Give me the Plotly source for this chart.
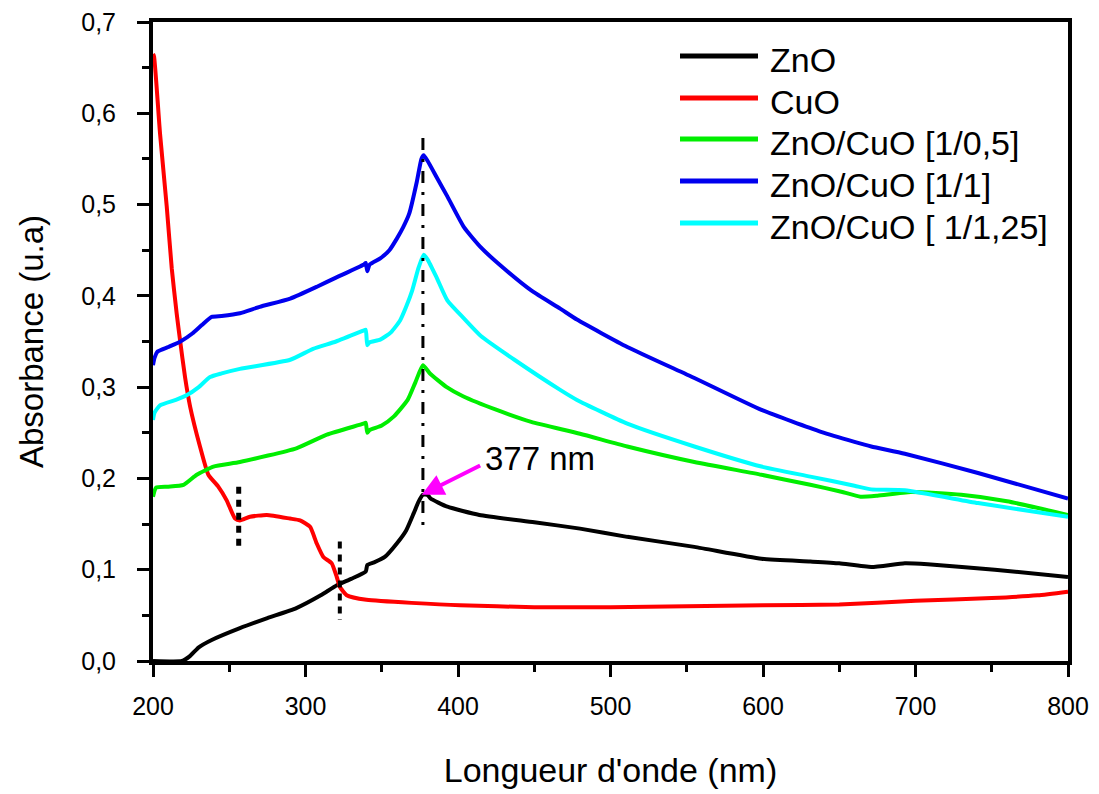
import plotly.graph_objects as go

# ---------------- data ----------------
series_names = ["ZnO", "CuO", "ZnO/CuO [1/0,5]", "ZnO/CuO [1/1]", "ZnO/CuO [ 1/1,25]"]
series_colors = ["#000000", "#ff0000", "#00ee00", "#0000ee", "#00ffff"]

zno_x = [200, 219, 224, 230, 238.5, 257, 275, 294, 310, 320.6, 330, 339.5, 340.5, 345, 352, 360, 366, 371,
         374, 377, 380, 382, 393, 414, 450, 480, 511, 555, 599, 631, 650, 671, 693, 708, 752, 800]
zno_y = [0.0, 0.0, 0.005, 0.015, 0.023, 0.036, 0.047, 0.058, 0.072, 0.083, 0.090, 0.098, 0.105, 0.108, 0.114,
         0.129, 0.143, 0.162, 0.174, 0.182, 0.182, 0.178, 0.169, 0.160, 0.152, 0.145, 0.136, 0.125, 0.112,
         0.109, 0.107, 0.103, 0.107, 0.106, 0.100, 0.092]

cuo_x = [200, 200.7, 204.6, 209, 212.3, 215.5, 217.7, 221, 224.3, 230.8, 236.3, 242.8, 248.3, 253.8, 257,
         263.6, 274.6, 289.8, 296.4, 303, 307.3, 311.7, 317.2, 320.5, 322.6, 327, 340, 401.3, 450, 500, 550,
         600, 650, 700, 750, 780, 800]
cuo_y = [0.665, 0.662, 0.578, 0.498, 0.430, 0.381, 0.352, 0.311, 0.279, 0.235, 0.204, 0.191, 0.176, 0.156,
         0.154, 0.158, 0.160, 0.156, 0.154, 0.147, 0.129, 0.114, 0.107, 0.092, 0.081, 0.072, 0.067, 0.061,
         0.059, 0.059, 0.060, 0.061, 0.062, 0.066, 0.069, 0.072, 0.076]

g_x = [200, 202, 210, 220, 228.7, 239.6, 257, 294, 314, 338, 339.5, 340.5, 342, 350, 358, 367, 372, 377,
       381.6, 392.6, 403.3, 425.4, 448, 480, 511, 555, 599, 631, 650, 664, 675, 697, 730, 760, 800]
g_y = [0.180, 0.190, 0.191, 0.193, 0.204, 0.213, 0.218, 0.233, 0.248, 0.260, 0.261, 0.250, 0.253, 0.258,
       0.268, 0.286, 0.305, 0.324, 0.315, 0.300, 0.290, 0.275, 0.262, 0.249, 0.235, 0.218, 0.204, 0.193,
       0.186, 0.180, 0.181, 0.185, 0.182, 0.175, 0.160]

b_x = [200, 201, 203, 210, 218, 226, 232, 238.5, 245, 257, 270, 290, 307.5, 320, 338, 339.5, 340.5, 342,
       349, 355, 360, 364, 368, 373, 376, 377.5, 380, 386, 393, 404, 415, 426, 448, 467, 478, 511, 555, 599,
       638, 660, 671, 693, 741, 800]
b_y = [0.324, 0.332, 0.339, 0.344, 0.350, 0.359, 0.368, 0.377, 0.378, 0.381, 0.388, 0.397, 0.410, 0.420,
       0.434, 0.436, 0.427, 0.434, 0.441, 0.450, 0.463, 0.475, 0.490, 0.525, 0.550, 0.554, 0.548, 0.530,
       0.509, 0.475, 0.453, 0.436, 0.406, 0.386, 0.374, 0.344, 0.310, 0.275, 0.251, 0.240, 0.235, 0.227,
       0.206, 0.178]

c_x = [200, 201, 204.6, 215, 222, 230, 237.4, 245, 257, 290, 305, 320, 338, 339.5, 340.5, 342, 349, 356,
       362, 366, 370, 374, 377.5, 380, 386, 393, 404, 415, 437, 467, 478, 511, 555, 599, 631, 660, 671,
       693, 741, 800]
c_y = [0.264, 0.272, 0.280, 0.286, 0.291, 0.300, 0.311, 0.315, 0.320, 0.330, 0.342, 0.350, 0.362, 0.363,
       0.346, 0.349, 0.352, 0.360, 0.373, 0.388, 0.406, 0.430, 0.445, 0.440, 0.420, 0.395, 0.375, 0.356,
       0.330, 0.297, 0.286, 0.260, 0.235, 0.213, 0.202, 0.192, 0.188, 0.187, 0.173, 0.158]

series_x = [zno_x, cuo_x, g_x, b_x, c_x]
series_y = [zno_y, cuo_y, g_y, b_y, c_y]

# guide lines (wavelength, y-top, y-bottom)
peak_line = [377, 0.573, 0.143]
cuo_mark1 = [256.2, 0.191, 0.120]
cuo_mark2 = [322.5, 0.131, 0.045]
arrow_head = [376.2, 0.182]
arrow_tail = [415.5, 0.215]
peak_label = "377 nm"

x_ticks = [200, 300, 400, 500, 600, 700, 800]
y_ticks = [0.0, 0.1, 0.2, 0.3, 0.4, 0.5, 0.6, 0.7]

FONT = "Liberation Sans, Arial, sans-serif"

fig = go.Figure()
for name, col, xs, ys in zip(series_names, series_colors, series_x, series_y):
    fig.add_trace(go.Scatter(x=xs, y=ys, mode="lines", name=name,
                             line=dict(color=col, width=4, shape="spline", smoothing=0.5),
                             showlegend=False, hoverinfo="skip"))

# guide lines (drawn from the top down so the dash pattern starts at the top)
fig.add_shape(type="line", x0=peak_line[0], x1=peak_line[0], y0=peak_line[1], y1=peak_line[2],
              xref="x", yref="y", line=dict(color="black", width=3, dash="12px,9px,3px,9px"))
fig.add_shape(type="line", x0=cuo_mark1[0], x1=cuo_mark1[0], y0=cuo_mark1[1], y1=cuo_mark1[2],
              xref="x", yref="y", line=dict(color="black", width=5, dash="7px,6px"))
fig.add_shape(type="line", x0=cuo_mark2[0], x1=cuo_mark2[0], y0=cuo_mark2[1], y1=cuo_mark2[2],
              xref="x", yref="y", line=dict(color="black", width=4, dash="7px,6px"))

# arrow + label
fig.add_annotation(x=arrow_head[0], y=arrow_head[1], ax=arrow_tail[0], ay=arrow_tail[1],
                   xref="x", yref="y", axref="x", ayref="y", text="", showarrow=True,
                   arrowhead=2, arrowsize=1.1, arrowwidth=4, arrowcolor="#ff00ff")
fig.add_annotation(x=arrow_tail[0] + 1, y=arrow_tail[1] + 0.007, xref="x", yref="y", text=peak_label,
                   showarrow=False, xanchor="left", yanchor="middle",
                   font=dict(family=FONT, size=33, color="black"))

# layout geometry (screen pixels of the plot frame)
W, H = 1099, 794
plot_l, plot_r, plot_t, plot_b = 153, 1068, 22, 661
ml, mt = plot_l, plot_t
mr, mb = W - plot_r, H - plot_b
pw, ph = plot_r - plot_l, plot_b - plot_t

# manual legend (screen-pixel positions -> paper coordinates)
leg_x0, leg_x1, leg_text_x = 680, 758, 768
leg_rows = [56, 98, 139, 181, 223]
for name, col, ry in zip(series_names, series_colors, leg_rows):
    yp = 1 - (ry - plot_t) / ph
    fig.add_shape(type="line", xref="paper", yref="paper",
                  x0=(leg_x0 - plot_l) / pw, x1=(leg_x1 - plot_l) / pw, y0=yp, y1=yp,
                  line=dict(color=col, width=5))
    fig.add_annotation(xref="paper", yref="paper", x=(leg_text_x - plot_l) / pw,
                       y=1 - (ry + 4 - plot_t) / ph, text=name, showarrow=False,
                       xanchor="left", yanchor="middle",
                       font=dict(family=FONT, size=34, color="black"))

axis_common = dict(showline=True, linewidth=4, linecolor="black", mirror=True,
                   ticks="outside", ticklen=12, tickwidth=3, tickcolor="black",
                   showgrid=False, zeroline=False, automargin=False,
                   tickfont=dict(family=FONT, size=25, color="black"))

fig.update_xaxes(range=[200, 800], tickvals=x_ticks, ticklabelstandoff=8,
                 minor=dict(ticks="outside", ticklen=7, tickwidth=3, dtick=50, tick0=200, tickcolor="black"),
                 title=dict(text="Longueur d'onde (nm)", font=dict(family=FONT, size=34, color="black"),
                            standoff=40),
                 **axis_common)
fig.update_yaxes(range=[0, 0.7], tickvals=y_ticks, tickformat=".1f", ticklabelstandoff=16,
                 minor=dict(ticks="outside", ticklen=7, tickwidth=3, dtick=0.05, tick0=0, tickcolor="black"),
                 title=dict(text="Absorbance (u.a)", font=dict(family=FONT, size=33, color="black"),
                            standoff=29),
                 **axis_common)

fig.update_layout(width=W, height=H, margin=dict(l=ml, r=mr, t=mt, b=mb),
                  paper_bgcolor="white", plot_bgcolor="white", separators=",.",
                  showlegend=False, hovermode=False, font=dict(family=FONT, color="black"))

fig.write_html("out.html", config={"displayModeBar": False},
               post_script="document.body.style.margin='0';")
